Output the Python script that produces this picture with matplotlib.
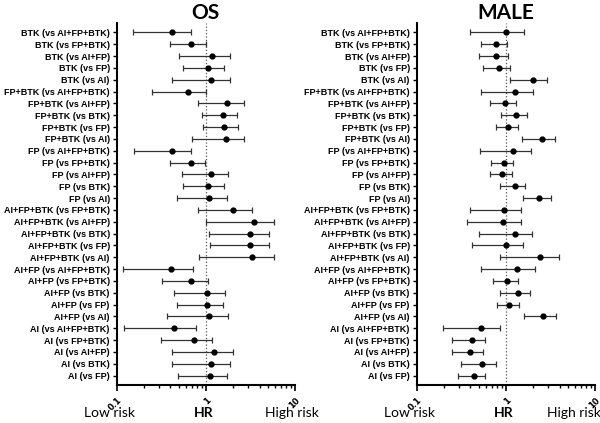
import numpy as np
import matplotlib.pyplot as plt
from matplotlib.ticker import LogLocator, NullFormatter, FixedLocator, FixedFormatter

labels = [
    "BTK (vs AI+FP+BTK)", "BTK (vs FP+BTK)", "BTK (vs AI+FP)", "BTK (vs FP)", "BTK (vs AI)",
    "FP+BTK (vs AI+FP+BTK)", "FP+BTK (vs AI+FP)", "FP+BTK (vs BTK)", "FP+BTK (vs FP)", "FP+BTK (vs AI)",
    "FP (vs AI+FP+BTK)", "FP (vs FP+BTK)", "FP (vs AI+FP)", "FP (vs BTK)", "FP (vs AI)",
    "AI+FP+BTK (vs FP+BTK)", "AI+FP+BTK (vs AI+FP)", "AI+FP+BTK (vs BTK)", "AI+FP+BTK (vs FP)", "AI+FP+BTK (vs AI)",
    "AI+FP (vs AI+FP+BTK)", "AI+FP (vs FP+BTK)", "AI+FP (vs BTK)", "AI+FP (vs FP)", "AI+FP (vs AI)",
    "AI (vs AI+FP+BTK)", "AI (vs FP+BTK)", "AI (vs AI+FP)", "AI (vs BTK)", "AI (vs FP)",
]

# OS hazard ratios
os_hr = [0.42, 0.69, 1.18, 1.07, 1.13,
         0.63, 1.74, 1.57, 1.58, 1.68,
         0.42, 0.69, 1.15, 1.07, 1.09,
         2.03, 3.47, 3.13, 3.13, 3.30,
         0.41, 0.68, 1.04, 1.03, 1.09,
         0.44, 0.73, 1.22, 1.14, 1.10]
os_lo = [0.154, 0.40, 0.50, 0.56, 0.42,
         0.25, 0.82, 0.91, 0.93, 0.70,
         0.155, 0.40, 0.54, 0.56, 0.48,
         0.82, 1.00, 1.09, 1.11, 0.84,
         0.119, 0.32, 0.44, 0.47, 0.37,
         0.12, 0.31, 0.42, 0.42, 0.49]
os_hi = [0.69, 1.00, 1.87, 1.60, 1.87,
         1.00, 2.70, 2.26, 2.28, 2.68,
         0.69, 0.98, 1.79, 1.58, 1.73,
         3.27, 5.87, 5.11, 5.15, 5.81,
         0.71, 1.06, 1.66, 1.57, 1.79,
         0.78, 1.17, 2.02, 1.85, 1.74]

# MALE hazard ratios
male_hr = [1.00, 0.78, 0.77, 0.83, 2.00,
           1.28, 0.99, 1.31, 1.06, 2.57,
           1.19, 0.95, 0.91, 1.25, 2.38,
           0.95, 0.93, 1.25, 1.01, 2.42,
           1.32, 1.04, 1.36, 1.09, 2.63,
           0.53, 0.42, 0.40, 0.54, 0.44]
male_lo = [0.40, 0.53, 0.50, 0.55, 1.12,
           0.53, 0.66, 0.89, 0.77, 1.53,
           0.51, 0.68, 0.66, 0.85, 1.56,
           0.40, 0.37, 0.50, 0.42, 0.87,
           0.53, 0.71, 0.87, 0.79, 1.60,
           0.196, 0.25, 0.25, 0.31, 0.29]
male_hi = [1.58, 1.04, 1.06, 1.10, 2.87,
           2.02, 1.31, 1.71, 1.36, 3.59,
           1.90, 1.21, 1.18, 1.66, 3.24,
           1.49, 1.47, 1.97, 1.57, 3.95,
           2.11, 1.38, 1.85, 1.39, 3.65,
           0.86, 0.59, 0.55, 0.78, 0.59]

fig = plt.figure(figsize=(6, 4.23), dpi=100)
# (title, values, axes left, centres of Low risk / HR / High risk in figure fraction)
panels = [("OS", os_hr, os_lo, os_hi, 0.1945, (0.183, 0.340, 0.487)),
          ("MALE", male_hr, male_lo, male_hi, 0.6945, (0.683, 0.840, 0.957))]

for title, hr, lo, hi, left, txt_x in panels:
    ax = fig.add_axes([left, 0.0898, 0.2972, 0.8558])
    hr = np.array(hr)
    y = np.arange(len(labels))
    err = [hr - np.array(lo), np.array(hi) - hr]
    ax.errorbar(hr, y, xerr=err, fmt='o', color='black', ecolor='#333333',
                markersize=3.5, elinewidth=0.9, capsize=2.3, capthick=0.9)
    ax.axvline(1, color='#555555', linestyle=':', linewidth=0.9, zorder=0)
    ax.set_xscale('log')
    ax.set_xlim(0.1, 10)
    ax.set_ylim(len(labels) - 0.2, -0.8)
    ax.set_yticks(y)
    ax.set_yticklabels(labels, fontsize=6.5, fontweight='bold', family='Liberation Sans')
    ax.xaxis.set_major_locator(FixedLocator([0.1, 1, 10]))
    ax.xaxis.set_major_formatter(FixedFormatter(["0.1", "1", "10"]))
    ax.xaxis.set_minor_locator(LogLocator(base=10, subs=np.arange(2, 10)))
    ax.xaxis.set_minor_formatter(NullFormatter())
    for lab in ax.get_xticklabels():
        lab.set_rotation(45)
        lab.set_ha('right')
        lab.set_rotation_mode('anchor')
        lab.set_fontsize(6)
        lab.set_fontweight('bold')
    ax.tick_params(axis='x', which='major', length=4, width=1.2, direction='out')
    ax.tick_params(axis='x', which='minor', length=2.5, width=1.0, direction='out')
    ax.tick_params(axis='y', length=3, width=1.0, pad=2)
    for s in ['top', 'right']:
        ax.spines[s].set_visible(False)
    ax.spines['left'].set_linewidth(1.5)
    ax.spines['bottom'].set_linewidth(1.5)
    ax.set_title(title, fontsize=15, fontweight='bold', family='Lato', pad=3)

    # risk labels under the axis
    fig.text(txt_x[0], 0.024, "Low risk", ha='center', va='center', fontsize=10, family='Lato')
    fig.text(txt_x[1], 0.024, "HR", ha='center', va='center', fontsize=10, fontweight='bold', family='Lato')
    fig.text(txt_x[2], 0.024, "High risk", ha='center', va='center', fontsize=10, family='Lato')

fig.savefig('out.png', dpi=100)
